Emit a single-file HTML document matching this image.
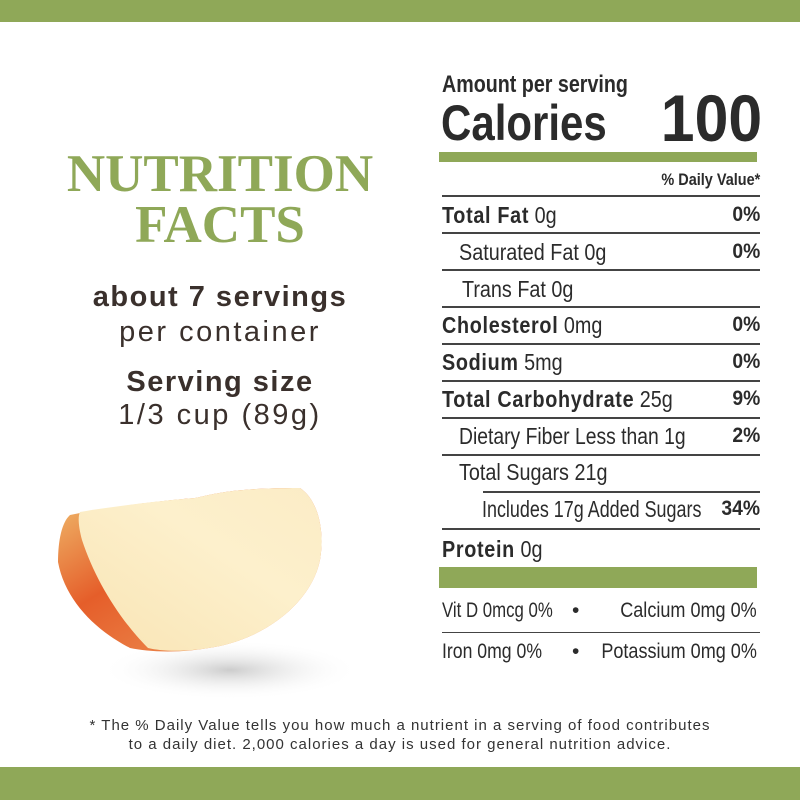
<!DOCTYPE html>
<html><head><meta charset="utf-8"><style>
body{margin:0;width:800px;height:800px;background:#fff;position:relative;overflow:hidden;font-family:"Liberation Sans",sans-serif;color:#2b2b2b}
.bar{position:absolute;left:0;width:800px;background:#8fa858}
.a{position:absolute;white-space:nowrap}
.n{color:#2b2b2b}
.ln{position:absolute;height:2px;background:#444;left:442px;width:318px}
.r{position:absolute;font-size:23px;line-height:24px;white-space:nowrap;transform:scaleX(.86);transform-origin:left}
.r b{letter-spacing:.8px}
.rr{transform-origin:right}
.s{transform:scaleX(.8);font-size:21px}
.p{position:absolute;right:40px;font-weight:bold;font-size:21px;line-height:24px;transform:scaleX(.92);transform-origin:right}
b{font-weight:bold}
.t{font-family:"Liberation Serif",serif;font-weight:bold;color:#8fa858;font-size:53px;text-align:center;width:440px;left:0}
.lt{width:440px;left:0;text-align:center;color:#3a302c;font-size:29px}
</style></head><body>
<div class="bar" style="top:0;height:22px"></div>
<div class="bar" style="top:767px;height:33px"></div>

<div class="a t" style="top:146px;line-height:56px">NUTRITION</div>
<div class="a t" style="top:197px;line-height:56px">FACTS</div>
<div class="a lt" style="top:281px;font-weight:bold;letter-spacing:1.5px">about 7 servings</div>
<div class="a lt" style="top:316px;letter-spacing:2.5px">per container</div>
<div class="a lt" style="top:366px;font-weight:bold;letter-spacing:1.5px">Serving size</div>
<div class="a lt" style="top:399px;letter-spacing:2.5px">1/3 cup (89g)</div>

<svg class="a" style="left:0;top:470px" width="440" height="260">
<defs>
<radialGradient id="sh" cx="0.5" cy="0.5" r="0.5"><stop offset="0" stop-color="#999" stop-opacity=".5"/><stop offset="1" stop-color="#fff" stop-opacity="0"/></radialGradient>
<linearGradient id="fl" x1="0" y1="1" x2="1" y2="0"><stop offset="0" stop-color="#f8e4b4"/><stop offset=".6" stop-color="#fdf0cc"/><stop offset="1" stop-color="#fbecc6"/></linearGradient>
<linearGradient id="sk" x1="0" y1="0" x2="1" y2="1"><stop offset="0" stop-color="#f0c070"/><stop offset=".4" stop-color="#e55e2a"/><stop offset="1" stop-color="#f0a060"/></linearGradient>
</defs>
<ellipse cx="230" cy="200" rx="130" ry="30" fill="url(#sh)"/>
<path d="M70,45 C120,35 170,30 195,28 C215,24 230,18 300,18 C318,30 325,60 320,90 C312,130 270,165 220,176 C180,184 150,182 130,178 C95,160 65,130 58,92 C58,70 62,52 70,45Z" fill="url(#sk)"/>
<path d="M80,42 C120,35 170,30 195,28 C215,24 230,18 300,18 C318,30 325,60 320,90 C312,130 270,165 220,176 C190,182 165,182 148,178 C120,150 95,110 82,70 C78,55 78,46 80,42Z" fill="url(#fl)"/>
</svg>

<div class="a n" style="left:442px;top:70px;font-size:24px;font-weight:bold;line-height:30px;transform:scaleX(.82);transform-origin:left">Amount per serving</div>
<div class="a n" style="left:441px;top:94px;font-size:50px;font-weight:bold;line-height:58px;transform:scaleX(.84);transform-origin:left">Calories</div>
<div class="a n" style="right:38px;top:82px;font-size:66px;font-weight:bold;line-height:72px;transform:scaleX(.92);transform-origin:right">100</div>
<div class="a" style="left:439px;top:152px;width:318px;height:10px;background:#8fa858"></div>
<div class="a n" style="right:40px;top:170px;font-size:17px;font-weight:bold;transform:scaleX(.85);transform-origin:right">% Daily Value*</div>

<div class="ln" style="top:195px"></div>
<div class="ln" style="top:232px"></div>
<div class="ln" style="top:269px"></div>
<div class="ln" style="top:306px"></div>
<div class="ln" style="top:343px"></div>
<div class="ln" style="top:380px"></div>
<div class="ln" style="top:417px"></div>
<div class="ln" style="top:454px"></div>
<div class="ln" style="top:491px;left:483px;width:277px"></div>
<div class="ln" style="top:528px"></div>

<div class="r" style="left:442px;top:203px"><b>Total Fat</b> 0g</div><div class="p" style="top:203px">0%</div>
<div class="r" style="left:459px;top:240px">Saturated Fat 0g</div><div class="p" style="top:240px">0%</div>
<div class="r" style="left:462px;top:277px">Trans Fat 0g</div>
<div class="r" style="left:442px;top:313px"><b>Cholesterol</b> 0mg</div><div class="p" style="top:313px">0%</div>
<div class="r" style="left:442px;top:350px"><b>Sodium</b> 5mg</div><div class="p" style="top:350px">0%</div>
<div class="r" style="left:442px;top:387px"><b>Total Carbohydrate</b> 25g</div><div class="p" style="top:387px">9%</div>
<div class="r" style="left:459px;top:424px;transform:scaleX(.84)">Dietary Fiber Less than 1g</div><div class="p" style="top:424px">2%</div>
<div class="r" style="left:459px;top:460px">Total Sugars 21g</div>
<div class="r" style="left:482px;top:497px;transform:scaleX(.78)">Includes 17g Added Sugars</div><div class="p" style="top:497px">34%</div>
<div class="r" style="left:442px;top:537px"><b>Protein</b> 0g</div>
<div class="a" style="left:439px;top:567px;width:318px;height:21px;background:#8fa858"></div>
<div class="r s" style="left:442px;top:599px">Vit D 0mcg 0%</div><div class="a" style="left:572px;top:599px;font-size:21px;line-height:24px">•</div><div class="r s rr" style="right:43px;top:599px;transform:scaleX(.86)">Calcium 0mg 0%</div>
<div class="ln" style="top:632px;height:1px"></div>
<div class="r s" style="left:442px;top:640px;transform:scaleX(.84)">Iron 0mg 0%</div><div class="a" style="left:572px;top:640px;font-size:21px;line-height:24px">•</div><div class="r s rr" style="right:43px;top:640px;transform:scaleX(.86)">Potassium 0mg 0%</div>

<div class="a" style="left:0;width:800px;text-align:center;top:716px;font-size:15px;line-height:19px;color:#333;letter-spacing:1px">* The % Daily Value tells you how much a nutrient in a serving of food contributes<br>to a daily diet. 2,000 calories a day is used for general nutrition advice.</div>
</body></html>
